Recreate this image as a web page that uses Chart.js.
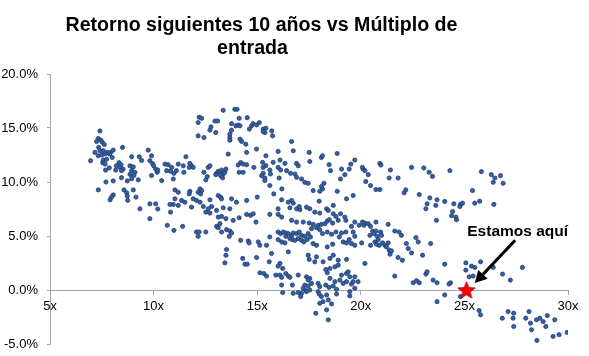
<!DOCTYPE html>
<html>
<head>
<meta charset="utf-8">
<script src="https://cdn.jsdelivr.net/npm/chart.js@4.4.1/dist/chart.umd.min.js"></script>
<style>
  html, body { margin: 0; padding: 0; background: #fff; }
  #wrap { position: relative; width: 589px; height: 356px; overflow: hidden; }
  .titulo { position: absolute; font: bold 19.6px "Liberation Sans", Arial, sans-serif; color: #000; text-align: center; line-height: 23px; white-space: nowrap; }
  canvas { position: absolute; left: 0; top: 0; }
</style>
</head>
<body>
<div id="wrap">
  <canvas id="c" width="589" height="356"></canvas>
  <div class="titulo" style="left:0; width:523px; top:13px;">Retorno siguientes 10 años vs Múltiplo de</div>
  <div class="titulo" style="left:0; width:505px; top:36px;">entrada</div>
</div>
<script>
// ---- DATA ----
// [múltiplo de entrada (x), retorno anual siguientes 10 años en % (y)]
const historico = [
[7.41,14.73],[7.33,14.03],[7.45,13.88],[7.25,13.75],[7.52,13.69],[7.62,13.47],[7.35,13.2],[7.17,12.74],[7.41,12.9],[7.57,12.9],[7.77,12.74],[7.93,12.74],[8.05,12.95],[7.33,12.43],[7.5,12.5],[7.66,12.6],[7.87,12.6],[8.0,12.27],[7.57,12.03],[7.73,12.1],[6.96,11.97],[7.54,11.79],[7.66,11.66],[8.5,13.2],[8.33,11.79],[8.43,11.6],[8.2,11.5],[8.37,11.35],[8.53,11.2],[8.17,11.1],[8.45,11.05],[7.86,11.3],[7.68,11.1],[8.86,11.5],[9.02,11.4],[8.94,11.05],[9.1,10.9],[8.86,10.7],[9.05,10.6],[8.94,10.3],[9.26,10.2],[8.73,10.1],[9.31,12.34],[8.94,12.34],[9.42,12.0],[9.74,12.95],[9.82,11.97],[9.95,11.7],[10.0,11.5],[10.1,11.2],[10.17,10.9],[10.2,11.1],[9.9,10.6],[8.45,10.4],[8.05,10.1],[7.7,10.0],[8.57,9.27],[8.7,9.0],[9.02,9.27],[8.73,8.7],[9.15,8.6],[8.75,8.3],[8.05,8.8],[7.97,8.6],[7.9,8.35],[7.33,9.27],[9.34,7.52],[9.82,7.98],[10.1,7.98],[10.2,7.5],
[13.36,16.64],[13.92,16.73],[14.03,16.73],[12.2,16.0],[12.32,15.9],[12.15,15.5],[12.96,15.65],[13.09,15.65],[12.77,15.1],[12.72,14.8],[13.0,14.58],[13.76,15.4],[13.97,15.2],[14.08,15.28],[14.17,15.2],[14.13,15.9],[14.52,15.96],[13.76,14.8],[14.73,15.2],[14.8,15.4],[14.62,14.9],[14.97,15.28],[13.68,14.43],[13.68,14.1],[13.68,13.87],[14.17,13.97],[14.25,13.75],[14.45,13.5],[14.97,13.05],[14.49,12.74],[12.15,14.27],[12.43,14.12],[13.6,12.58],[11.56,12.34],[14.2,11.8],[14.32,11.66],[14.08,11.57],[14.49,11.6],[14.84,11.35],[14.13,10.9],[14.32,10.9],[9.9,12.43],[10.55,11.66],[10.7,11.6],[10.87,11.35],[10.63,11.05],[10.82,10.99],[10.98,10.8],[11.1,11.05],[11.19,11.66],[11.43,11.5],[11.46,10.9],[11.75,11.72],[11.83,11.5],[11.91,11.35],[11.72,11.35],[10.39,10.13],[10.95,10.28],[12.43,10.9],[12.64,11.35],[12.72,11.5],[12.59,10.5],[12.52,10.19],[13.04,10.8],[13.12,10.99],[13.2,10.9],[13.28,11.11],[13.36,10.75],[13.44,10.9],[13.23,10.59],[13.33,10.38],[13.49,11.2],[13.0,10.68],[11.03,9.27],[11.19,9.05],[11.75,9.14],[11.72,8.9],[12.24,9.36],[12.32,9.2],[12.15,9.05],[12.27,8.9],[12.72,8.35],[13.12,8.75],[13.23,8.6],[13.28,8.44],[11.35,8.29],[11.51,8.13],[11.91,8.44],[12.07,8.29],[11.03,8.44],[10.95,7.92],[10.79,7.92],[13.76,8.44],[14.49,8.29],[15.0,8.6],[11.83,7.67],[12.4,7.73],[12.64,7.52],[12.8,7.73],[13.36,7.61],[13.68,7.52],
[15.1,15.5],[15.29,14.89],[15.42,14.98],[15.37,14.58],[15.29,14.67],[15.7,14.73],[15.74,14.27],[16.66,13.75],[16.74,12.89],[15.42,12.43],[16.01,12.83],[17.51,12.74],[17.54,11.9],[18.1,12.27],[18.15,12.43],[18.86,12.64],[15.26,11.82],[15.42,11.51],[15.29,11.35],[15.77,11.82],[16.01,11.35],[16.1,12.03],[16.34,11.72],[16.42,11.05],[16.13,11.11],[15.61,11.11],[15.64,10.74],[15.29,10.8],[15.21,10.59],[15.37,10.37],[15.37,10.13],[16.9,11.72],[16.98,11.5],[16.61,10.8],[16.82,10.74],[16.9,10.43],[17.14,10.28],[17.3,9.97],[17.46,9.88],[16.06,10.37],[16.19,9.36],[15.8,8.9],[15.61,9.67],[17.7,9.21],[18.02,9.14],[18.15,9.36],[18.22,9.88],[18.1,9.58],[18.47,11.6],[18.54,11.05],[19.07,11.2],[19.23,10.68],[19.02,10.28],[19.44,11.2],[19.52,11.66],[19.71,12.03],[18.86,9.14],[16.18,8.35],[16.5,8.13],[16.66,8.29],[16.74,8.04],[16.01,7.52],[16.58,7.61],[16.9,7.52],[17.06,7.43],[17.99,8.22],[17.54,7.52],[18.35,7.52],[18.67,7.83],[19.31,8.44],[19.63,8.75],
[20.11,11.2],[20.2,11.05],[20.36,10.68],[20.08,11.35],[20.92,11.72],[20.97,11.57],[21.43,11.11],[21.37,10.37],[21.8,10.37],[20.24,10.04],[20.47,9.67],[20.73,9.3],[20.92,9.3],[22.45,11.35],[23.04,11.3],[23.3,10.9],[23.46,10.52],[24.3,11.05],[22.17,9.27],[22.09,9.0],[22.82,8.84],[23.33,8.53],[23.68,8.35],[23.2,7.98],[23.62,7.83],[23.14,7.52],[24.05,8.2],[24.49,7.98],
[25.82,10.96],[26.3,10.68],[26.47,10.37],[26.74,10.59],[26.39,9.97],[26.87,9.88],[25.39,9.21],[24.81,7.92],[24.91,8.04],[24.78,7.73],[25.5,8.04],[25.74,8.22],[26.42,7.92],[24.43,7.27],[24.38,6.88],[24.59,6.75],[24.62,6.51],[24.05,2.39],[25.07,2.51],[25.34,2.21],[25.5,2.09],[25.78,2.61],[25.07,1.84],[25.23,1.22],[25.42,1.29],[24.33,0.67],[24.26,0.55],[26.84,1.47],[27.22,0.92],[27.8,2.09],[26.39,2.09],[24.05,-0.46],[24.81,-0.61],[25.71,-1.9],[25.78,-2.3],[26.83,-2.61],[27.11,-2.0],[27.38,-2.15],[27.35,-2.61],[27.38,-3.38],[27.96,-2.61],[28.12,-2.0],[28.19,-3.07],[28.24,-3.68],[28.48,-2.76],[28.64,-2.61],[28.8,-2.92],[28.93,-3.38],[29.0,-2.37],[29.36,-2.76],[28.5,-4.67],[29.28,-4.3],[29.57,-4.14],[29.96,-3.93],
[9.82,6.6],[11.19,7.83],[10.82,7.21],[12.24,8.13],[12.52,7.21],[12.72,7.12],[13.04,7.37],[14.0,8.13],[13.12,6.75],[13.28,6.81],[13.49,6.6],[13.2,6.14],[13.04,5.89],[13.12,5.77],[13.28,5.37],[13.52,5.59],[13.68,5.46],[13.76,5.28],[13.65,4.97],[13.84,6.45],[14.13,6.69],[14.49,7.0],[14.68,6.91],[14.94,6.29],[10.66,5.99],[10.98,5.52],[11.4,5.89],[12.07,5.37],[12.2,5.37],[12.52,5.37],[12.15,4.97],[14.2,4.6],[14.57,4.54],[14.61,4.36],[15.05,4.45],[15.13,4.14],[13.52,3.75],[13.49,3.22],[13.44,2.51],[14.3,2.92],[14.41,2.39],[14.52,2.39],[14.97,3.01],
[17.03,7.73],[17.38,7.67],[17.78,7.21],[18.02,7.12],[18.43,7.37],[18.67,7.06],[18.8,6.81],[19.23,6.75],[19.02,7.06],[18.91,6.45],[19.28,6.45],[14.81,7.06],[15.61,7.0],[16.01,7.0],[16.18,6.75],[16.66,6.45],[16.9,6.29],[17.22,6.29],[17.51,6.2],[17.7,6.08],[17.94,5.99],[18.1,6.08],[18.27,6.14],[18.38,6.38],[18.48,6.51],[17.86,5.77],[17.62,5.68],[18.02,5.59],[18.64,6.2],
[16.01,5.37],[16.13,5.22],[16.26,5.37],[16.38,5.28],[16.5,5.22],[16.66,5.06],[16.74,5.28],[16.9,5.22],[17.03,5.37],[17.14,5.06],[17.3,4.97],[17.46,5.22],[17.57,4.91],[16.58,4.76],[16.7,4.67],[16.82,4.6],[16.98,4.76],[17.14,4.6],[17.25,4.45],[17.41,4.67],[17.7,4.3],[17.86,4.14],[16.18,4.45],[16.34,4.36],[16.01,4.67],[16.5,3.53],[16.38,4.97],[15.61,4.91],[15.45,4.14],[15.69,3.38],[15.58,2.61],
[18.15,5.22],[18.38,5.37],[18.59,5.16],[18.8,5.37],[18.96,4.91],[19.07,5.28],[19.28,5.37],[19.44,4.67],[19.15,4.45],[19.31,4.36],[19.55,4.3],[19.71,4.14],[18.38,3.99],[18.64,4.24],[17.46,3.22],[17.86,3.07],[17.51,2.83],[17.78,2.61],[18.18,2.61],[18.51,2.92],[18.67,3.22],[18.91,2.76],[19.31,2.83],[18.31,1.9],[18.51,1.99],[18.75,2.15],[18.91,2.3],[16.1,2.46],[16.01,2.21],[16.23,2.0],
[23.65,6.45],[19.71,6.29],[19.55,5.89],[19.92,5.99],[20.08,6.29],[20.15,5.99],[20.2,6.2],[20.36,6.14],[20.47,5.89],[20.73,6.29],[20.57,5.46],[20.73,5.46],[20.63,5.22],[20.44,5.06],[20.79,4.97],[20.95,5.37],[21.0,5.06],[20.84,4.67],[21.05,4.36],[20.68,4.45],[20.76,4.24],[20.89,4.14],[20.47,4.14],[19.63,5.37],[19.71,4.97],[20.04,4.36],[21.32,6.08],[21.64,5.46],[21.85,5.37],[21.96,5.06],[21.16,4.14],[21.24,3.99],[21.37,3.68],[21.41,3.31],[21.48,3.62],[21.32,4.36],[22.2,4.3],[22.29,3.84],[22.45,3.43],[22.66,4.85],[22.77,4.45],[22.98,3.22],[23.37,4.3],[21.8,3.01],[22.01,2.76],[21.64,1.29],[20.2,2.46],[22.53,0.67],[22.69,0.86],[22.82,0.67],[23.14,1.47],[23.2,1.69],[23.49,0.92],[23.68,0.67],[23.68,-1.08],
[15.13,1.59],[15.32,1.53],[15.45,1.29],[15.9,1.38],[16.1,1.38],[16.18,1.17],[16.38,1.53],[16.5,1.29],[16.58,1.17],[16.98,1.38],[17.38,1.22],[17.54,1.07],[17.46,0.92],[17.62,0.61],[17.3,0.46],[17.46,0.37],[17.22,0.16],[17.35,-0.06],[17.54,0.0],[17.38,-0.15],[17.14,-0.31],[16.98,-0.24],[16.74,-0.31],[16.23,-0.24],[16.18,0.46],[16.7,0.46],[17.1,-0.61],[17.94,0.61],[18.02,0.31],[17.94,-0.15],[17.99,-0.37],[18.1,-0.61],[18.35,-0.46],[18.18,-1.08],[18.43,-0.92],[18.59,-1.29],[17.83,-2.15],[18.43,-2.76],[18.35,-1.84],[18.02,-1.23],[18.31,0.46],[18.47,0.25],[18.67,0.37],[18.83,0.06],[18.75,0.77],[18.99,0.92],[19.15,0.61],[19.31,0.77],[19.07,1.38],[19.31,1.53],[19.39,1.69],[19.47,1.22],[19.55,0.55],[19.63,0.77],[19.71,1.22],[19.87,0.77],[19.47,-0.15],[19.71,0.16],[19.47,-0.55],[18.83,-0.37],[18.51,1.07],[18.38,1.59]
];
const estamosAqui = [[25.1, 0]];
const xTicks = [5, 10, 15, 20, 25, 30];
const yTicks = [-5, 0, 5, 10, 15, 20];
const etiqueta = 'Estamos aquí';

// annotation placement (data coordinates)
const etiquetaPos = [27.57, 5.43];
const flechaDesde = [27.45, 4.6];
const flechaHasta = [25.5, 0.64];

// ---- STYLE helpers ----
function makeStar(R, ratio) {
  const size = Math.ceil(R * 2 + 4);
  const c = document.createElement('canvas');
  c.width = size; c.height = size;
  const g = c.getContext('2d');
  const cx = size / 2, cy = size / 2 + 0.8;
  g.beginPath();
  for (let i = 0; i < 10; i++) {
    const r = i % 2 === 0 ? R : R * ratio;
    const a = -Math.PI / 2 + i * Math.PI / 5;
    const px = cx + r * Math.cos(a), py = cy + r * Math.sin(a);
    if (i === 0) g.moveTo(px, py); else g.lineTo(px, py);
  }
  g.closePath();
  g.fillStyle = '#FF0000';
  g.fill();
  g.lineWidth = 1;
  g.strokeStyle = '#B00000';
  g.stroke();
  return c;
}

const anotacion = {
  id: 'anotacion',
  afterDatasetsDraw(chart) {
    const { ctx, scales: { x, y } } = chart;
    ctx.save();
    ctx.font = 'bold 15.5px "Liberation Sans", Arial, sans-serif';
    ctx.fillStyle = '#000';
    ctx.textAlign = 'center';
    ctx.textBaseline = 'middle';
    ctx.fillText(etiqueta, x.getPixelForValue(etiquetaPos[0]), y.getPixelForValue(etiquetaPos[1]));
    const x1 = x.getPixelForValue(flechaDesde[0]), y1 = y.getPixelForValue(flechaDesde[1]);
    const x2 = x.getPixelForValue(flechaHasta[0]), y2 = y.getPixelForValue(flechaHasta[1]);
    const ang = Math.atan2(y2 - y1, x2 - x1);
    const head = 12, hw = 6.5;
    const bx = x2 - head * Math.cos(ang), by = y2 - head * Math.sin(ang);
    ctx.strokeStyle = '#000';
    ctx.lineWidth = 3;
    ctx.beginPath(); ctx.moveTo(x1, y1); ctx.lineTo(bx, by); ctx.stroke();
    ctx.beginPath();
    ctx.moveTo(x2, y2);
    ctx.lineTo(bx + hw * Math.sin(ang), by - hw * Math.cos(ang));
    ctx.lineTo(bx - hw * Math.sin(ang), by + hw * Math.cos(ang));
    ctx.closePath();
    ctx.fill();
    ctx.restore();
  }
};

const axisGrey = '#A6A6A6';
const tickFont = { family: '"Liberation Sans", Arial, sans-serif', size: 13 };

new Chart(document.getElementById('c'), {
  type: 'scatter',
  data: {
    datasets: [
      {
        label: 'Estamos aquí',
        data: estamosAqui.map(([x, y]) => ({ x, y })),
        pointStyle: makeStar(9, 0.42),
        pointRadius: 9,
        order: 0
      },
      {
        label: 'Histórico',
        data: historico.map(([x, y]) => ({ x, y })),
        pointRadius: 2.1,
        pointBackgroundColor: '#3560A3',
        pointBorderColor: '#1F3C73',
        pointBorderWidth: 0.8,
        order: 1
      }
    ]
  },
  options: {
    responsive: false,
    animation: false,
    events: [],
    layout: { padding: { top: 74, right: 21, bottom: 12, left: 0 } },
    plugins: { legend: { display: false }, tooltip: { enabled: false }, title: { display: false } },
    scales: {
      x: {
        type: 'linear',
        position: { y: 0 },
        min: xTicks[0],
        max: xTicks[xTicks.length - 1],
        afterBuildTicks: s => { s.ticks = xTicks.map(v => ({ value: v })); },
        afterFit: s => { s.height = 0; },
        grid: { drawOnChartArea: false, tickLength: 4, color: axisGrey },
        border: { display: true, color: axisGrey, width: 1 },
        ticks: { color: '#000', font: tickFont, padding: 5, maxRotation: 0, callback: v => v + 'x' }
      },
      y: {
        type: 'linear',
        min: yTicks[0],
        max: yTicks[yTicks.length - 1],
        afterBuildTicks: s => { s.ticks = yTicks.map(v => ({ value: v })); },
        afterFit: s => { s.width = 50; s.paddingTop = 8; s.paddingBottom = 8; },
        grid: { drawOnChartArea: false, tickLength: 3, color: axisGrey },
        border: { display: true, color: axisGrey, width: 1 },
        ticks: { color: '#000', font: tickFont, padding: 9, callback: v => v.toFixed(1) + '%' }
      }
    }
  },
  plugins: [anotacion]
});
</script>
</body>
</html>
